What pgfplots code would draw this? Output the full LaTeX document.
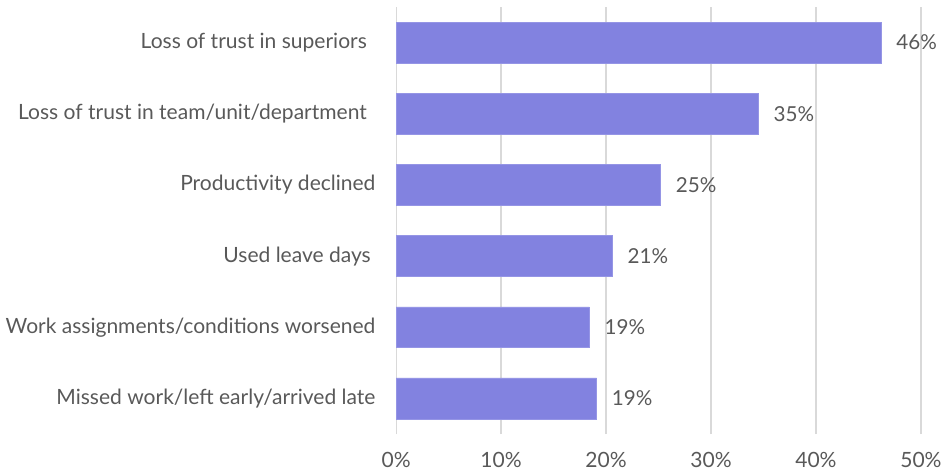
\documentclass[border=0pt]{standalone}
\usepackage{pgfplots}
\pgfplotsset{compat=1.18}
\usepackage{fontspec}
\setmainfont{Lato}
\definecolor{barc}{HTML}{8282E0}
\definecolor{txt}{HTML}{595959}
\definecolor{gridc}{HTML}{D9D9D9}
\begin{document}
\begin{tikzpicture}
\begin{axis}[
  name=ax,
  scale only axis,
  width=394.5pt, height=321pt,
  xbar, bar width=30.75pt,
  xmin=0, xmax=50, ymin=-0.5, ymax=5.5,
  xtick={0,10,20,30,40,50},
  xticklabels={0\%,10\%,20\%,30\%,40\%,50\%},
  ytick={0,1,2,3,4,5},
  yticklabels={Missed work/left early/arrived late,Work assignments/conditions worsened,Used leave days\kern3.5pt\null,Productivity declined,Loss of trust in team/unit/department\kern6.5pt\null,Loss of trust in superiors\kern6.5pt\null},
  xmajorgrids, grid style={gridc, line width=0.9pt},
  axis line style={draw=none},
  major tick length=0pt,
  tick label style={font=\fontsize{15.8}{18}\selectfont, text=txt},
  yticklabel style={xshift=-12pt},
  xticklabel style={yshift=-10pt},
  point meta=explicit symbolic,
  nodes near coords,
  nodes near coords style={font=\fontsize{15.5}{18}\selectfont, text=txt, anchor=west, xshift=8pt},
]
\addplot[fill=barc, draw=barc!85!white] coordinates {
  (19.1,0) [19\%]
  (18.4,1) [19\%]
  (20.6,2) [21\%]
  (25.2,3) [25\%]
  (34.5,4) [35\%]
  (46.2,5) [46\%]
};
\end{axis}
\useasboundingbox (ax.south west) ++(-297.75pt,-28.5pt) rectangle ++(709.5pt,354.75pt);
\end{tikzpicture}
\end{document}
